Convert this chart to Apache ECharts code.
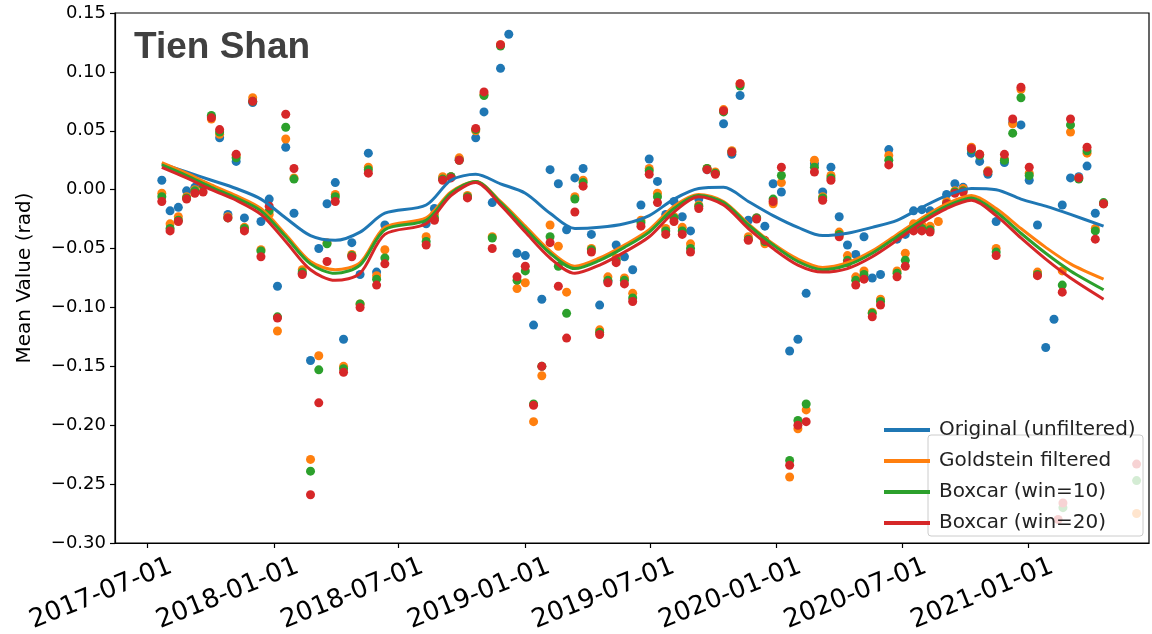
<!DOCTYPE html>
<html>
<head>
<meta charset="utf-8">
<script src="https://cdn.jsdelivr.net/npm/echarts@6/dist/echarts.min.js"></script>
<style>
html,body{margin:0;padding:0;background:#fff;}
#chart{width:1152px;height:634px;}
</style>
</head>
<body>
<div id="chart"></div>
<script>
// ---------------- data ----------------
const dates = [
'2017-07-22','2017-08-03','2017-08-15','2017-08-27','2017-09-08','2017-09-20','2017-10-02','2017-10-14','2017-10-26','2017-11-07',
'2017-11-19','2017-12-01','2017-12-13','2017-12-25','2018-01-06','2018-01-18','2018-01-30','2018-02-11','2018-02-23','2018-03-07',
'2018-03-19','2018-03-31','2018-04-12','2018-04-24','2018-05-06','2018-05-18','2018-05-30','2018-06-11',
'2018-08-10','2018-08-22','2018-09-03','2018-09-15','2018-09-27','2018-10-09','2018-10-21','2018-11-02','2018-11-14','2018-11-26',
'2018-12-08','2018-12-20','2019-01-01','2019-01-13','2019-01-25','2019-02-06','2019-02-18','2019-03-02','2019-03-14','2019-03-26',
'2019-04-07','2019-04-19','2019-05-01','2019-05-13','2019-05-25','2019-06-06','2019-06-18','2019-06-30','2019-07-12','2019-07-24',
'2019-08-05','2019-08-17','2019-08-29','2019-09-10','2019-09-22','2019-10-04','2019-10-16','2019-10-28','2019-11-09','2019-11-21',
'2019-12-03','2019-12-15','2019-12-27','2020-01-08','2020-01-20','2020-02-01','2020-02-13','2020-02-25','2020-03-08','2020-03-20',
'2020-04-01','2020-04-13','2020-04-25','2020-05-07','2020-05-19','2020-05-31','2020-06-12','2020-06-24','2020-07-06','2020-07-18',
'2020-07-30','2020-08-11','2020-08-23','2020-09-04','2020-09-16','2020-09-28','2020-10-10','2020-10-22','2020-11-03','2020-11-15',
'2020-11-27','2020-12-09','2020-12-21','2021-01-02','2021-01-14','2021-01-26','2021-02-07','2021-02-19','2021-03-03','2021-03-15',
'2021-03-27','2021-04-08','2021-04-20',
'2021-02-13','2021-02-20','2021-06-07'
];
const originalPts = [
0.008,-0.018,-0.015,-0.001,0.002,0.004,0.062,0.044,-0.021,0.024,
-0.024,0.074,-0.027,-0.008,-0.082,0.036,-0.020,-0.071,-0.145,-0.050,
-0.012,0.006,-0.127,-0.045,-0.072,0.031,-0.070,-0.030,
-0.029,-0.016,0.010,0.011,0.026,-0.006,0.044,0.066,-0.011,0.103,
0.132,-0.054,-0.056,-0.115,-0.093,0.017,0.005,-0.034,0.010,0.018,
-0.038,-0.098,-0.078,-0.047,-0.057,-0.068,-0.013,0.026,0.007,-0.021,
-0.010,-0.023,-0.035,-0.008,0.017,0.014,0.056,0.030,0.080,-0.026,
-0.024,-0.031,0.005,-0.002,-0.137,-0.127,-0.088,0.022,-0.002,0.019,
-0.023,-0.047,-0.055,-0.040,-0.075,-0.072,0.034,-0.042,-0.038,-0.018,
-0.017,-0.018,null,-0.004,0.005,0.002,0.031,0.024,0.013,-0.027,
0.023,0.057,0.055,0.008,-0.030,-0.134,-0.110,-0.013,0.010,0.011,
0.020,-0.020,-0.012,
null,null,null
];
const goldsteinPts = [
-0.003,-0.029,-0.023,-0.006,0.000,0.003,0.060,0.047,-0.023,0.029,
-0.032,0.078,-0.051,-0.021,-0.120,0.043,0.010,-0.068,-0.229,-0.141,
-0.045,-0.004,-0.150,-0.055,-0.097,0.019,-0.073,-0.051,
-0.040,-0.021,0.011,0.011,0.027,-0.005,0.050,0.081,-0.040,0.123,
null,-0.084,-0.079,-0.197,-0.158,-0.030,-0.048,-0.087,-0.006,0.008,
-0.050,-0.119,-0.074,-0.058,-0.075,-0.088,-0.026,0.018,-0.003,-0.033,
-0.023,-0.032,-0.046,-0.013,0.018,0.015,0.068,0.033,0.090,-0.040,
-0.024,-0.046,-0.012,0.006,-0.244,-0.203,-0.187,0.025,-0.006,0.012,
-0.036,-0.056,-0.074,-0.069,-0.104,-0.093,0.029,-0.069,-0.054,-0.029,
-0.030,-0.031,-0.027,-0.010,-0.001,0.001,0.036,0.030,0.016,-0.050,
0.026,0.056,0.085,0.014,-0.070,null,null,-0.069,0.049,0.010,
0.031,-0.033,-0.012,
null,null,-0.275
];
const boxcar10Pts = [
-0.006,-0.033,-0.026,-0.007,-0.001,0.004,0.063,0.049,-0.024,0.027,
-0.033,0.075,-0.052,-0.018,-0.108,0.053,0.009,-0.070,-0.239,-0.153,
-0.046,-0.006,-0.152,-0.056,-0.097,0.017,-0.076,-0.058,
-0.044,-0.024,0.009,0.011,0.025,-0.006,0.051,0.080,-0.041,0.122,
null,-0.077,-0.069,-0.182,-0.150,-0.040,-0.065,-0.105,-0.008,0.006,
-0.051,-0.121,-0.077,-0.060,-0.077,-0.092,-0.028,0.016,-0.006,-0.035,
-0.024,-0.035,-0.050,-0.014,0.018,0.014,0.066,0.032,0.088,-0.042,
-0.024,-0.044,-0.008,0.012,-0.230,-0.196,-0.182,0.019,-0.007,0.010,
-0.038,-0.060,-0.077,-0.072,-0.105,-0.095,0.025,-0.071,-0.060,-0.032,
-0.033,-0.034,null,-0.012,-0.002,-0.001,0.034,0.029,0.015,-0.053,
0.025,0.048,0.078,0.012,-0.072,null,null,-0.081,0.055,0.009,
0.033,-0.035,-0.011,
null,-0.270,-0.247
];
const boxcar20Pts = [
-0.010,-0.035,-0.027,-0.008,-0.003,-0.002,0.061,0.051,-0.024,0.030,
-0.035,0.075,-0.057,-0.014,-0.109,0.064,0.018,-0.072,-0.259,-0.181,
-0.061,-0.010,-0.155,-0.057,-0.100,0.014,-0.081,-0.063,
-0.047,-0.026,0.008,0.010,0.025,-0.007,0.052,0.083,-0.050,0.123,
null,-0.074,-0.065,-0.183,-0.150,-0.045,-0.082,-0.126,-0.019,0.003,
-0.053,-0.123,-0.079,-0.062,-0.080,-0.095,-0.031,0.013,-0.011,-0.038,
-0.027,-0.038,-0.053,-0.016,0.017,0.013,0.067,0.032,0.090,-0.043,
-0.025,-0.043,-0.010,0.019,-0.234,-0.200,-0.197,0.015,-0.009,0.008,
-0.040,-0.062,-0.081,-0.076,-0.108,-0.098,0.021,-0.074,-0.065,-0.035,
-0.035,-0.036,null,-0.012,-0.003,-0.002,0.035,0.030,0.015,-0.056,
0.030,0.060,0.087,0.019,-0.073,null,null,-0.087,0.060,0.010,
0.036,-0.042,-0.012,
-0.280,-0.266,-0.233
];

// smoothed trend lines
const lineDates = [
'2017-07-22','2017-08-27','2017-10-02','2017-11-07','2017-12-13','2018-01-18','2018-02-23','2018-03-31','2018-05-06','2018-06-11',
'2018-08-10','2018-09-15','2018-10-21','2018-11-26','2019-01-01','2019-02-06','2019-03-14','2019-04-19','2019-05-25','2019-06-30',
'2019-08-05','2019-09-10','2019-10-16','2019-11-21','2019-12-27','2020-02-01','2020-03-08','2020-04-13','2020-05-19','2020-06-24',
'2020-07-30','2020-09-04','2020-10-10','2020-11-15','2020-12-21','2021-01-26','2021-03-03','2021-04-20'
];
const originalLine = [
0.022,0.015,0.008,0.001,-0.008,-0.024,-0.039,-0.043,-0.036,-0.020,
-0.013,0.008,0.013,0.005,-0.003,-0.020,-0.033,-0.032,-0.029,-0.022,
-0.008,0.001,0.002,-0.010,-0.022,-0.032,-0.039,-0.037,-0.032,-0.026,
-0.015,-0.005,0.001,0.000,-0.008,-0.014,-0.021,-0.031
];
const goldsteinLine = [
0.023,0.014,0.004,-0.005,-0.016,-0.038,-0.061,-0.068,-0.062,-0.032,
-0.024,-0.002,0.007,-0.010,-0.031,-0.052,-0.065,-0.058,-0.047,-0.034,
-0.014,-0.004,-0.010,-0.029,-0.046,-0.059,-0.066,-0.062,-0.052,-0.038,
-0.024,-0.012,-0.005,-0.016,-0.033,-0.049,-0.063,-0.076
];
const boxcar10Line = [
0.021,0.012,0.002,-0.007,-0.018,-0.040,-0.063,-0.071,-0.064,-0.034,
-0.026,-0.003,0.007,-0.011,-0.033,-0.054,-0.067,-0.060,-0.049,-0.036,
-0.016,-0.005,-0.011,-0.030,-0.047,-0.061,-0.068,-0.064,-0.054,-0.040,
-0.026,-0.014,-0.007,-0.019,-0.037,-0.054,-0.069,-0.085
];
const boxcar20Line = [
0.019,0.010,0.000,-0.009,-0.021,-0.044,-0.068,-0.077,-0.071,-0.038,
-0.029,-0.005,0.006,-0.013,-0.036,-0.058,-0.071,-0.064,-0.053,-0.040,
-0.019,-0.006,-0.013,-0.033,-0.050,-0.064,-0.070,-0.067,-0.057,-0.043,
-0.028,-0.016,-0.009,-0.022,-0.041,-0.059,-0.075,-0.093
];

const seriesNames = ['Original (unfiltered)','Goldstein filtered','Boxcar (win=10)','Boxcar (win=20)'];
const seriesColors = ['#1f77b4','#ff7f0e','#2ca02c','#d62728'];
const xTickDates = ['2017-07-01','2018-01-01','2018-07-01','2019-01-01','2019-07-01','2020-01-01','2020-07-01','2021-01-01'];
const xMinDate = '2017-05-15';
const xMaxDate = '2021-06-25';
const yMin = -0.30, yMax = 0.15, yStep = 0.05;
const chartTitle = 'Tien Shan';
const yTitle = 'Mean Value (rad)';

// ---------------- build ----------------
const ts = s => { const p = s.split('-').map(Number); return Date.UTC(p[0], p[1]-1, p[2]); };
const pad2 = n => (n < 10 ? '0' : '') + n;
const fmtDate = v => { const d = new Date(v); return d.getUTCFullYear() + '-' + pad2(d.getUTCMonth()+1) + '-' + pad2(d.getUTCDate()); };

const ptSets = [originalPts, goldsteinPts, boxcar10Pts, boxcar20Pts];
const lineSets = [originalLine, goldsteinLine, boxcar10Line, boxcar20Line];

const series = [];
ptSets.forEach((vals, k) => {
  series.push({
    name: seriesNames[k] + ' pts',
    type: 'scatter',
    symbolSize: 9,
    itemStyle: { color: seriesColors[k], opacity: 1 },
    z: 2,
    silent: true,
    data: dates.map((d, i) => vals[i] == null ? null : [ts(d), vals[i]]).filter(x => x)
  });
});
lineSets.forEach((vals, k) => {
  series.push({
    name: seriesNames[k],
    type: 'line',
    showSymbol: false,
    smooth: 0.3,
    lineStyle: { color: seriesColors[k], width: 3 },
    itemStyle: { color: seriesColors[k] },
    z: 3,
    silent: true,
    data: lineDates.map((d, i) => [ts(d), vals[i]])
  });
});

const tickTs = xTickDates.map(ts);
const chart = echarts.init(document.getElementById('chart'), null, { renderer: 'canvas' });
chart.setOption({
  animation: false,
  backgroundColor: '#ffffff',
  textStyle: { fontFamily: 'DejaVu Sans' },
  title: {
    text: chartTitle,
    left: 129,
    top: 24,
    textStyle: { fontFamily: 'Liberation Sans', fontWeight: 'bold', fontSize: 37, color: '#404040' }
  },
  grid: {
    left: 115, right: 3, top: 13, bottom: 91,
    show: true, borderColor: '#000', borderWidth: 1.2,
    outerBoundsMode: 'none', containLabel: false
  },
  legend: {
    data: seriesNames,
    orient: 'vertical',
    left: 879, top: 415,
    icon: 'rect',
    itemWidth: 46, itemHeight: 4,
    itemGap: 11,
    z: 20,
    textStyle: { fontFamily: 'DejaVu Sans', fontSize: 20, color: '#222', lineHeight: 20, padding: [0,0,0,4] },
    selectedMode: false
  },
  graphic: [{
    type: 'rect', z: 10,
    shape: { x: 928, y: 435, width: 215, height: 101, r: 3 },
    style: { fill: 'rgba(255,255,255,0.8)', stroke: '#cccccc', lineWidth: 1 }
  }],
  xAxis: {
    type: 'value',
    min: ts(xMinDate), max: ts(xMaxDate),
    axisLine: { show: true, onZero: false, lineStyle: { color: '#000', width: 1.2 } },
    axisTick: { show: true, length: 5, lineStyle: { color: '#000', width: 1.2 }, customValues: tickTs },
    splitLine: { show: false },
    axisLabel: {
      customValues: tickTs,
      formatter: v => fmtDate(v),
      rotate: 22,
      align: 'center',
      verticalAlign: 'middle',
      margin: 32,
      padding: [0, 100, 0, 0],
      fontFamily: 'DejaVu Sans',
      fontSize: 26,
      color: '#000'
    }
  },
  yAxis: {
    type: 'value',
    min: yMin, max: yMax, interval: yStep,
    name: yTitle,
    nameLocation: 'middle',
    nameRotate: 90,
    nameGap: 80,
    nameTextStyle: { fontFamily: 'DejaVu Sans', fontSize: 20, color: '#000' },
    axisLine: { show: true, lineStyle: { color: '#000', width: 1.2 } },
    axisTick: { show: true, length: 5, lineStyle: { color: '#000', width: 1.2 } },
    splitLine: { show: false },
    axisLabel: {
      formatter: v => (v < -1e-9 ? '\u2212' : '') + Math.abs(v).toFixed(2),
      fontFamily: 'DejaVu Sans',
      fontSize: 18,
      color: '#000',
      margin: 9
    }
  },
  series: series
});
</script>
</body>
</html>
